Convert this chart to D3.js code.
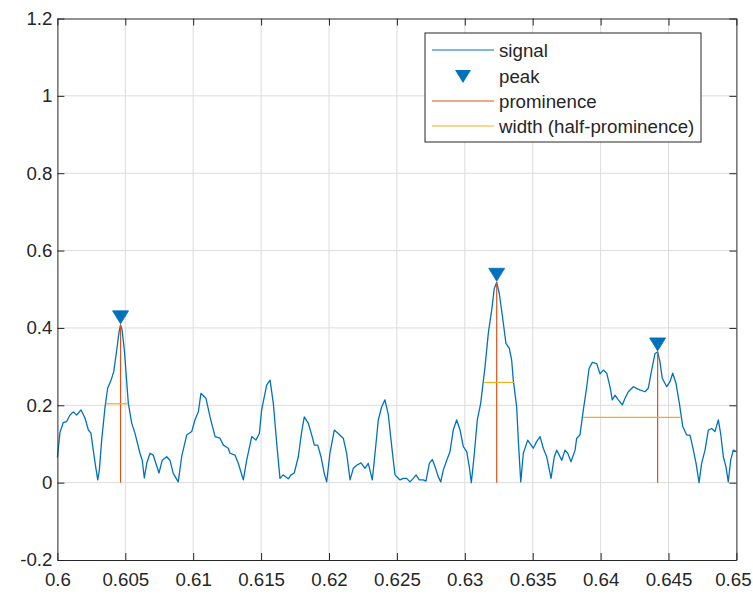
<!DOCTYPE html>
<html>
<head>
<meta charset="utf-8">
<script src="https://cdn.jsdelivr.net/npm/d3@7"></script>
<style>
  html, body { margin: 0; padding: 0; background: #fff; }
  svg { display: block; }
  text { font-family: "Liberation Sans", Arial, Helvetica, sans-serif; }
</style>
</head>
<body>
<svg id="chart" width="753" height="596"></svg>
<script>
// ---- data ----
const signalX = [
  0.60000,0.60019,0.60043,0.60068,0.60093,0.60117,0.60142,0.60174,0.60203,0.60228,
  0.60247,0.60264,0.60282,0.60297,0.60309,0.60326,0.60351,0.60370,0.60395,0.60415,
  0.60437,0.60454,0.60465,0.60476,0.60493,0.60522,0.60547,0.60571,0.60608,0.60625,
  0.60640,0.60658,0.60682,0.60706,0.60748,0.60772,0.60805,0.60829,0.60853,0.60890,
  0.60915,0.60952,0.60989,0.61013,0.61038,0.61057,0.61094,0.61124,0.61161,0.61197,
  0.61222,0.61258,0.61271,0.61308,0.61332,0.61369,0.61394,0.61431,0.61462,0.61487,
  0.61504,0.61541,0.61566,0.61590,0.61615,0.61639,0.61663,0.61700,0.61720,0.61744,
  0.61774,0.61799,0.61818,0.61848,0.61873,0.61892,0.61917,0.61941,0.61965,0.61983,
  0.62007,0.62039,0.62068,0.62105,0.62130,0.62155,0.62179,0.62204,0.62236,0.62265,
  0.62289,0.62319,0.62339,0.62363,0.62388,0.62412,0.62437,0.62462,0.62486,0.62523,
  0.62547,0.62572,0.62596,0.62621,0.62641,0.62665,0.62694,0.62714,0.62739,0.62761,
  0.62781,0.62805,0.62823,0.62842,0.62867,0.62891,0.62915,0.62940,0.62965,0.62989,
  0.63014,0.63033,0.63048,0.63068,0.63092,0.63117,0.63149,0.63173,0.63198,0.63217,
  0.63235,0.63254,0.63279,0.63303,0.63328,0.63345,0.63357,0.63382,0.63394,0.63412,
  0.63431,0.63463,0.63504,0.63529,0.63554,0.63578,0.63603,0.63635,0.63659,0.63677,
  0.63714,0.63738,0.63758,0.63782,0.63812,0.63824,0.63848,0.63873,0.63898,0.63915,
  0.63939,0.63971,0.63996,0.64020,0.64045,0.64069,0.64086,0.64106,0.64130,0.64160,
  0.64180,0.64204,0.64241,0.64278,0.64327,0.64351,0.64376,0.64401,0.64420,0.64437,
  0.64454,0.64487,0.64511,0.64531,0.64555,0.64580,0.64605,0.64634,0.64658,0.64678,
  0.64703,0.64725,0.64744,0.64769,0.64793,0.64818,0.64842,0.64867,0.64884,0.64904,
  0.64923,0.64940,0.64958,0.64977,0.65000
];
const signalY = [
  0.065,0.130,0.155,0.158,0.175,0.183,0.175,0.188,0.167,0.136,
  0.128,0.084,0.041,0.007,0.033,0.110,0.196,0.244,0.265,0.287,
  0.343,0.390,0.408,0.395,0.343,0.206,0.154,0.128,0.076,0.058,
  0.012,0.050,0.076,0.071,0.025,0.058,0.067,0.058,0.024,0.002,
  0.067,0.123,0.132,0.162,0.183,0.231,0.218,0.170,0.119,0.115,
  0.097,0.089,0.076,0.071,0.050,0.007,0.058,0.119,0.110,0.127,
  0.188,0.252,0.265,0.205,0.102,0.011,0.020,0.010,0.020,0.025,
  0.067,0.132,0.170,0.153,0.123,0.097,0.097,0.067,0.024,0.002,
  0.076,0.136,0.127,0.115,0.076,0.007,0.037,0.045,0.051,0.037,
  0.050,0.007,0.076,0.162,0.196,0.214,0.175,0.093,0.020,0.007,
  0.011,0.011,0.002,0.011,0.020,0.007,0.007,0.004,0.050,0.060,
  0.041,0.015,0.002,0.033,0.058,0.080,0.136,0.162,0.136,0.093,
  0.080,0.041,0.000,0.067,0.162,0.205,0.300,0.386,0.446,0.502,
  0.518,0.489,0.425,0.360,0.347,0.317,0.265,0.196,0.110,0.002,
  0.076,0.110,0.089,0.106,0.119,0.089,0.067,0.011,0.067,0.084,
  0.058,0.084,0.076,0.054,0.084,0.115,0.123,0.188,0.248,0.295,
  0.311,0.308,0.281,0.291,0.283,0.248,0.214,0.226,0.214,0.201,
  0.218,0.235,0.248,0.241,0.235,0.244,0.291,0.334,0.338,0.313,
  0.270,0.248,0.261,0.283,0.257,0.205,0.145,0.123,0.123,0.093,
  0.050,0.000,0.050,0.084,0.136,0.140,0.132,0.162,0.127,0.067,
  0.041,0.002,0.058,0.084,0.080
];
const peakX = [0.60465, 0.63235, 0.64420];
const peakY = [0.408, 0.518, 0.338];
const promBase = [0, 0, 0];
const widthLeft = [0.60356, 0.63144, 0.63872];
const widthRight = [0.60522, 0.63363, 0.64589];
const widthY = [0.204, 0.259, 0.169];
const xTicks = [0.6,0.605,0.61,0.615,0.62,0.625,0.63,0.635,0.64,0.645,0.65];
const xTickLabels = ["0.6","0.605","0.61","0.615","0.62","0.625","0.63","0.635","0.64","0.645","0.65"];
const yTicks = [-0.2,0,0.2,0.4,0.6,0.8,1,1.2];
const yTickLabels = ["-0.2","0","0.2","0.4","0.6","0.8","1","1.2"];
const legendLabels = ["signal","peak","prominence","width (half-prominence)"];

// ---- styles ----
const C_SIG = "#0072BD", C_PROM = "#D95319", C_WID = "#EDB120";
const C_AX = "#262626";
const FS = "18.7px";
const M = {left: 57.4, right: 736.4, top: 18.5, bottom: 560};

const svg = d3.select("#chart");
const x = d3.scaleLinear().domain([0.6, 0.65]).range([M.left, M.right]);
const y = d3.scaleLinear().domain([-0.2, 1.2]).range([M.bottom, M.top]);

// grid
const grid = svg.append("g");
grid.selectAll(".gx").data(xTicks.slice(1, -1)).join("line")
  .attr("x1", d => x(d)).attr("x2", d => x(d))
  .attr("y1", M.top).attr("y2", M.bottom)
  .attr("stroke", "#dcdcdc").attr("stroke-width", 1);
grid.selectAll(".gy").data(yTicks.slice(1, -1)).join("line")
  .attr("y1", d => y(d)).attr("y2", d => y(d))
  .attr("x1", M.left).attr("x2", M.right)
  .attr("stroke", "#dcdcdc").attr("stroke-width", 1);

// signal
const line = d3.line().x(d => x(d[0])).y(d => y(d[1]));
svg.append("path")
  .datum(signalX.map((v, i) => [v, signalY[i]]))
  .attr("d", line).attr("fill", "none")
  .attr("stroke", C_SIG).attr("stroke-width", 1.3).attr("stroke-linejoin", "round");

// prominence
svg.selectAll(".prom").data(peakX).join("line")
  .attr("x1", d => x(d)).attr("x2", d => x(d))
  .attr("y1", (d, i) => y(peakY[i])).attr("y2", (d, i) => y(promBase[i]))
  .attr("stroke", C_PROM).attr("stroke-width", 1.2);

// widths
svg.selectAll(".wid").data(widthY).join("line")
  .attr("x1", (d, i) => x(widthLeft[i])).attr("x2", (d, i) => x(widthRight[i]))
  .attr("y1", d => y(d)).attr("y2", d => y(d))
  .attr("stroke", C_WID).attr("stroke-width", 1.2);

// peak markers
const tri = (cx, tipY) => `M${cx - 8},${tipY - 13} L${cx + 8},${tipY - 13} L${cx},${tipY} Z`;
svg.selectAll(".pk").data(peakX).join("path")
  .attr("d", (d, i) => tri(x(d), y(peakY[i]) - 1))
  .attr("fill", C_SIG).attr("stroke", C_SIG).attr("stroke-width", 0.8);

// axes
const fmtX = (d, i) => xTickLabels[i];
const fmtY = (d, i) => yTickLabels[i];
const styleAxis = g => {
  g.selectAll("path").attr("stroke", C_AX).attr("stroke-width", 1);
  g.selectAll("line").attr("stroke", C_AX).attr("stroke-width", 1);
  g.selectAll("text").attr("fill", C_AX).style("font-size", FS)
    .style("font-family", "'Liberation Sans', Arial, sans-serif");
};
const gxb = svg.append("g").attr("transform", `translate(0,${M.bottom})`)
  .call(d3.axisBottom(x).tickValues(xTicks).tickFormat(fmtX).tickSize(-7).tickSizeOuter(0).tickPadding(13))
  .call(styleAxis);
// keep the last label inside the picture
gxb.selectAll(".tick text").filter((d, i, n) => i === n.length - 1).attr("dx", -3.5);
svg.append("g").attr("transform", `translate(0,${M.top})`)
  .call(d3.axisTop(x).tickValues(xTicks).tickFormat("").tickSize(-7).tickSizeOuter(0))
  .call(styleAxis);
svg.append("g").attr("transform", `translate(${M.left},0)`)
  .call(d3.axisLeft(y).tickValues(yTicks).tickFormat(fmtY).tickSize(-7).tickSizeOuter(0).tickPadding(5))
  .call(styleAxis);
svg.append("g").attr("transform", `translate(${M.right},0)`)
  .call(d3.axisRight(y).tickValues(yTicks).tickFormat("").tickSize(-7).tickSizeOuter(0))
  .call(styleAxis);

// legend
const L = {x: 425, y: 33, w: 276, h: 109};
const lg = svg.append("g");
lg.append("rect").attr("x", L.x).attr("y", L.y).attr("width", L.w).attr("height", L.h)
  .attr("fill", "#fff").attr("stroke", C_AX).attr("stroke-width", 1);
const rowsY = [50, 76, 101, 126];
const lgTypes = ["line", "marker", "line", "line"];
const lgColors = [C_SIG, C_SIG, C_PROM, C_WID];
legendLabels.forEach((lab, i) => {
  const ry = rowsY[i];
  if (lgTypes[i] === "line") {
    lg.append("line").attr("x1", 432).attr("x2", 494).attr("y1", ry).attr("y2", ry)
      .attr("stroke", lgColors[i]).attr("stroke-width", 1.2);
  } else {
    lg.append("path").attr("d", tri(463, ry + 7)).attr("fill", lgColors[i]);
  }
  lg.append("text").attr("x", 499).attr("y", ry).attr("dy", "0.35em")
    .style("font-size", FS).attr("fill", C_AX).text(lab);
});
</script>
</body>
</html>
